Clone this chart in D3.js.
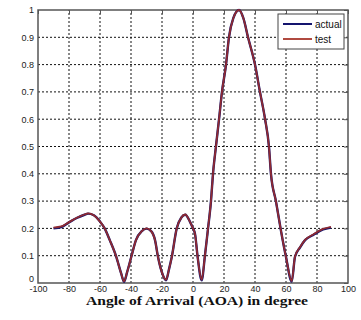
<!DOCTYPE html>
<html>
<head>
<meta charset="utf-8">
<script src="https://cdn.jsdelivr.net/npm/d3@7"></script>
<style>
  body { margin: 0; background: #fff; }
  svg text { font-family: "Liberation Sans", Arial, sans-serif; }
</style>
</head>
<body>
<svg id="chart" width="361" height="320"></svg>
<script>
// angle of arrival (deg) and normalised beam pattern
var angles = [-90, -85, -80, -75, -70, -67.7, -64, -60, -57, -53.7, -49.5, -46.4, -44.5, -42.5, -39.8, -36.8, -33, -30, -27, -24.5, -22.6, -19.5, -17.4,
              -15.5, -13.7, -10.5, -7.5, -5, -2, 0, 1.3, 3, 5.6, 7.7, 9.7, 11.6, 12.9, 14.8, 16.8, 18.7, 21.3, 23.2, 26, 29.7,
              32.5, 35.5, 40, 43.2, 46.5, 49, 50.3, 53.5, 56.8, 60, 63.7, 65.8, 69, 72.3, 77.6, 83.9, 89];
var actual = [0.2, 0.205, 0.222, 0.238, 0.25, 0.254, 0.248, 0.225, 0.2, 0.157, 0.096, 0.036, 0.004, 0.04, 0.096, 0.157, 0.19, 0.199, 0.19, 0.157, 0.096, 0.03, 0.01,
              0.05, 0.095, 0.2, 0.24, 0.25, 0.225, 0.2, 0.18, 0.095, 0.01, 0.1, 0.2, 0.3, 0.4, 0.5, 0.6, 0.7, 0.8, 0.9, 0.97, 1.0,
              0.97, 0.9, 0.8, 0.7, 0.6, 0.5, 0.4, 0.3, 0.19, 0.095, 0.005, 0.096, 0.13, 0.157, 0.176, 0.196, 0.203];
var test = [0.203, 0.207, 0.223, 0.239, 0.251, 0.255, 0.248, 0.225, 0.2, 0.157, 0.096, 0.036, 0.006, 0.04, 0.096, 0.157, 0.19, 0.2, 0.19, 0.157, 0.096, 0.03, 0.012,
            0.05, 0.095, 0.2, 0.24, 0.251, 0.225, 0.2, 0.18, 0.095, 0.012, 0.1, 0.2, 0.3, 0.4, 0.5, 0.6, 0.7, 0.8, 0.9, 0.97, 1.0,
            0.97, 0.9, 0.8, 0.7, 0.6, 0.5, 0.4, 0.3, 0.19, 0.095, 0.007, 0.097, 0.131, 0.158, 0.178, 0.198, 0.206];
var xTicks = [-100, -80, -60, -40, -20, 0, 20, 40, 60, 80, 100];
var yTicks = [0, 0.1, 0.2, 0.3, 0.4, 0.5, 0.6, 0.7, 0.8, 0.9, 1];
var seriesNames = ["actual", "test"];
var seriesColors = ["#14146e", "#b04a40"];

var svg = d3.select("svg#chart");
var margin = { left: 38, right: 13, top: 10, bottom: 37 };
var width = 361, height = 320;

var x = d3.scaleLinear().domain([-100, 100]).range([margin.left, width - margin.right]);
var y = d3.scaleLinear().domain([0, 1]).range([height - margin.bottom, margin.top]);

// dotted grid
svg.append("g")
    .selectAll("line")
    .data(xTicks.slice(1, -1))
    .enter().append("line")
        .attr("x1", function(d) { return x(d); })
        .attr("x2", function(d) { return x(d); })
        .attr("y1", y(0))
        .attr("y2", y(1))
        .attr("stroke", "#111")
        .attr("stroke-width", 1)
        .attr("stroke-dasharray", "2,2");

svg.append("g")
    .selectAll("line")
    .data(yTicks.slice(1, -1))
    .enter().append("line")
        .attr("x1", x(-100))
        .attr("x2", x(100))
        .attr("y1", function(d) { return y(d); })
        .attr("y2", function(d) { return y(d); })
        .attr("stroke", "#111")
        .attr("stroke-width", 1)
        .attr("stroke-dasharray", "2,2");

// axes, ticks drawn inward like matlab
var xAxis = svg.append("g")
    .attr("transform", "translate(0," + y(0) + ")")
    .call(d3.axisBottom(x).tickValues(xTicks).tickSize(0).tickPadding(3)
        .tickFormat(function(d) { return String(d); }));
xAxis.select(".domain").remove();
xAxis.selectAll("text")
    .attr("font-size", 9)
    .attr("fill", "#222")
    .attr("font-family", "Liberation Sans Narrow, Liberation Sans, Arial, sans-serif");

svg.append("g")
    .attr("transform", "translate(0," + y(1) + ")")
    .call(d3.axisTop(x).tickValues(xTicks).tickSize(-4).tickFormat(""))
    .call(function(g) { g.select(".domain").remove(); g.selectAll("line").attr("stroke", "#555"); });

var yAxis = svg.append("g")
    .attr("transform", "translate(" + x(-100) + ",0)")
    .call(d3.axisLeft(y).tickValues(yTicks).tickSize(0).tickPadding(4)
        .tickFormat(function(d) { return String(+d.toFixed(1)); }));
yAxis.select(".domain").remove();
yAxis.selectAll("text")
    .attr("font-size", 9)
    .attr("fill", "#222")
    .attr("font-family", "Liberation Sans Narrow, Liberation Sans, Arial, sans-serif");
// the zero label sits a little higher so it clears the -100 below it
yAxis.selectAll(".tick text").filter(function(d) { return d === 0; })
    .attr("dy", "-0.15em");

svg.append("g")
    .attr("transform", "translate(" + x(100) + ",0)")
    .call(d3.axisRight(y).tickValues(yTicks).tickSize(-4).tickFormat(""))
    .call(function(g) { g.select(".domain").remove(); g.selectAll("line").attr("stroke", "#555"); });

// box
svg.append("rect")
    .attr("x", x(-100))
    .attr("y", y(1))
    .attr("width", x(100) - x(-100))
    .attr("height", y(0) - y(1))
    .attr("fill", "none")
    .attr("stroke", "#555")
    .attr("stroke-width", 1.5);

// lines
var line = d3.line()
    .x(function(d) { return x(d[0]); })
    .y(function(d) { return y(d[1]); })
    .curve(d3.curveMonotoneX);

svg.append("path")
    .datum(angles.map(function(a, i) { return [a, actual[i]]; }))
    .attr("d", line)
    .attr("fill", "none")
    .attr("stroke", seriesColors[0])
    .attr("stroke-width", 2.4);

svg.append("path")
    .datum(angles.map(function(a, i) { return [a, test[i]]; }))
    .attr("d", line)
    .attr("fill", "none")
    .attr("stroke", "#8e2a32")
    .attr("stroke-width", 1.8);

// legend
var legend = svg.append("g").attr("transform", "translate(278,14)");
legend.append("rect")
    .attr("width", 66)
    .attr("height", 35)
    .attr("fill", "#fff")
    .attr("stroke", "#444")
    .attr("stroke-width", 1);

legend.selectAll("g.item")
    .data(seriesNames)
    .enter().append("g")
        .attr("class", "item")
        .attr("transform", function(d, i) { return "translate(0," + (10 + i * 15) + ")"; })
        .each(function(d, i) {
            var g = d3.select(this);
            g.append("line")
                .attr("x1", 5).attr("x2", 34)
                .attr("stroke", seriesColors[i])
                .attr("stroke-width", 2);
            g.append("text")
                .attr("x", 37)
                .attr("y", 3.5)
                .attr("font-size", 10)
                .attr("fill", "#111")
                .text(d);
        });

// x label
svg.append("text")
    .attr("x", 86)
    .attr("y", 305)
    .attr("textLength", 222)
    .attr("lengthAdjust", "spacingAndGlyphs")
    .attr("font-weight", "bold")
    .attr("font-size", 13)
    .attr("fill", "#111")
    .style("font-family", "Liberation Serif, Times New Roman, serif")
    .text("Angle of Arrival (AOA) in degree");
</script>
</body>
</html>
